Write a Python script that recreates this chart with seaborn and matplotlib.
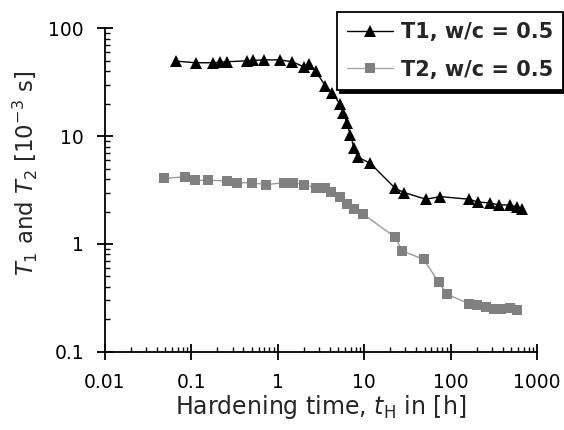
import numpy as np
import pandas as pd
import matplotlib
matplotlib.use("Agg")
import matplotlib.pyplot as plt
import seaborn as sb

# T1 relaxation time, w/c = 0.5
t1_time = [0.066, 0.112, 0.176, 0.217, 0.258, 0.436, 0.518, 0.69, 1.05, 1.48, 2.0, 2.32,
           2.75, 3.57, 4.3, 5.2, 5.75, 6.3, 6.95, 7.65, 8.4, 11.8, 23, 29, 52, 76, 163,
           207, 288, 365, 490, 590, 680]
t1_vals = [49.7, 48, 48, 48.5, 49, 50, 50.5, 51, 51, 49, 44, 47,
           40.4, 29, 25.3, 20, 16.5, 13.3, 10.2, 7.7, 6.4, 5.6, 3.27, 3.0, 2.6, 2.75, 2.6,
           2.45, 2.4, 2.3, 2.3, 2.2, 2.1]

# T2 relaxation time, w/c = 0.5
t2_time = [0.048, 0.084, 0.109, 0.157, 0.258, 0.34, 0.5, 0.73, 1.19, 1.5, 2.0, 2.8,
           3.57, 4.1, 5.2, 6.3, 7.6, 9.7, 23, 27.6, 49, 73, 91.5, 163, 200, 260, 315,
           380, 490, 590]
t2_vals = [4.05, 4.2, 3.9, 3.9, 3.85, 3.7, 3.7, 3.55, 3.7, 3.7, 3.55, 3.3,
           3.3, 3.05, 2.75, 2.35, 2.1, 1.9, 1.15, 0.86, 0.72, 0.44, 0.34, 0.28, 0.27, 0.26, 0.25,
           0.25, 0.255, 0.245]

series_names = ["T1, w/c = 0.5", "T2, w/c = 0.5"]
x_ticks = [0.01, 0.1, 1, 10, 100, 1000]
x_ticklabels = ["0.01", "0.1", "1", "10", "100", "1000"]
y_ticks = [0.1, 1, 10, 100]
y_ticklabels = ["0.1", "1", "10", "100"]

df = pd.concat([
    pd.DataFrame({"t": t1_time, "T": t1_vals, "series": series_names[0]}),
    pd.DataFrame({"t": t2_time, "T": t2_vals, "series": series_names[1]}),
], ignore_index=True)

sb.set_style("ticks")
plt.rcParams["font.family"] = ["DejaVu Sans"]

fig = plt.figure(figsize=(5.64, 4.30), dpi=100)
ax = fig.add_axes([0.186, 0.182, 0.766, 0.752])

# draw lines through seaborn, then restyle markers per series
sb.lineplot(data=df, x="t", y="T", hue="series", style="series",
            markers=["^", "s"], dashes=False, palette=["black", "#9a9a9a"],
            estimator=None, sort=False, linewidth=1,
            markeredgewidth=0, ax=ax, legend=False)
lines = ax.get_lines()
lines[0].set_markersize(9)
lines[0].set_markerfacecolor("black")
lines[1].set_markersize(7.5)
lines[1].set_markerfacecolor("#808080")

ax.set_xscale("log")
ax.set_yscale("log")
ax.set_xlim(0.01, 1000)
ax.set_ylim(0.1, 100)
ax.set_xticks(x_ticks)
ax.set_xticklabels(x_ticklabels)
ax.set_yticks(y_ticks)
ax.set_yticklabels(y_ticklabels)

for s in ["top", "right"]:
    ax.spines[s].set_visible(False)
for s in ["left", "bottom"]:
    ax.spines[s].set_linewidth(1.3)
    ax.spines[s].set_color("black")

ax.tick_params(which="major", direction="inout", length=12, width=1.3,
               labelsize=13.5, colors="black")
ax.tick_params(axis="x", which="major", pad=9)
ax.tick_params(axis="y", which="major", pad=9)
ax.tick_params(which="minor", direction="in", length=3.6, width=1, colors="black")

ax.set_xlabel(r"Hardening time, $\it{t}_{\rm H}$ in [h]", fontsize=17, labelpad=1)
ax.set_ylabel(r"$\it{T}_{\rm 1}$ and $\it{T}_{\rm 2}$ [10$^{-3}$ s]", fontsize=16.5)
ax.yaxis.set_label_coords(-0.15, 0.55)

handles = [
    plt.Line2D([], [], color="black", marker="^", markersize=8, linewidth=1, markeredgewidth=0),
    plt.Line2D([], [], color="#a8a8a8", marker="s", markersize=7, linewidth=1,
               markerfacecolor="#808080", markeredgewidth=0),
]
leg = fig.legend(handles, series_names, loc="upper left",
                 bbox_to_anchor=(0.5975, 0.973), bbox_transform=fig.transFigure,
                 borderaxespad=0, prop={"weight": "bold", "size": 15},
                 frameon=True, fancybox=False,
                 shadow={"color": "black", "alpha": 1}, handlelength=2.2,
                 labelspacing=0.85, borderpad=0.5, handletextpad=0.35)
leg.get_frame().set_edgecolor("black")
leg.get_frame().set_linewidth(1.3)
leg.get_frame().set_alpha(1)

fig.savefig("out.png", dpi=100)
